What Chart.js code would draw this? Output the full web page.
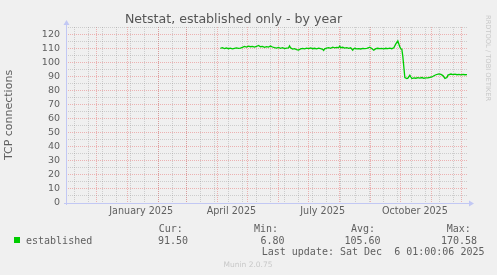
<!DOCTYPE html>
<html>
<head>
<meta charset="utf-8">
<script src="https://cdn.jsdelivr.net/npm/chart.js@4/dist/chart.umd.min.js"></script>
<style>
  html, body { margin: 0; padding: 0; background: #f0f0f0; }
  #wrap { width: 497px; height: 275px; }
</style>
</head>
<body>
<div id="wrap"><canvas id="netstatChart" width="497" height="275"></canvas></div>
<script>
// days counted from 1 Nov 2024 (graph start), the graph ends on 6 Dec 2025 (day 400)
const days = [154,156,158,160,162,164,166,168,170,172,174,176,178,180,182,184,186,188,190,192,
  194,196,198,200,202,204,206,208,210,212,214,216,218,220,222,223,224,226,228,230,
  232,234,236,238,240,242,244,246,248,250,252,254,256,257,258,260,262,264,266,268,
  270,272,273,274,276,278,280,282,284,286,287,288,290,292,294,296,298,300,302,303,
  305,307,309,311,313,315,317,319,321,323,325,327,329,331,333,334,335,336,338,340,
  341,343,344,345,347,349,351,353,355,357,359,361,363,365,367,369,372,374,376,378,
  380,381,384,386,388,390,392,394,396,398,400];
const established = [110.5,110.9,110.3,110.7,110.2,110.6,110.1,110.5,110.8,110.4,110.6,111.2,111.8,111.4,112.0,111.6,111.9,111.3,111.8,112.5,
  111.6,111.9,111.2,111.7,111.3,112.1,111.4,110.9,110.6,111.1,110.5,110.9,110.3,110.6,110.8,112.2,110.9,109.9,110.2,109.6,
  109.3,110.0,110.4,110.1,110.6,110.3,110.7,110.2,110.5,110.1,110.6,110.2,109.8,109.0,110.1,110.6,111.0,110.5,111.3,110.8,
  111.2,111.0,112.0,110.9,111.2,110.6,111.0,110.4,110.8,109.1,110.2,110.5,110.1,110.3,110.0,110.4,110.2,110.5,110.9,111.3,
  110.4,109.1,110.2,110.5,110.2,110.4,110.1,110.5,110.3,110.6,110.2,110.8,113.6,115.7,111.5,110.2,109.8,104.5,89.6,88.9,
  89.2,91.2,90.0,88.9,89.4,89.1,89.5,89.2,89.6,89.1,89.4,89.3,89.7,90.0,90.9,91.6,92.2,91.8,91.0,89.0,
  89.6,91.4,92.1,91.7,92.0,91.6,91.9,91.5,91.8,91.6,91.7];

// month starts (red grid), quarter labels placed mid-month
const monthStarts = [30,61,92,120,151,181,212,242,273,304,334,365,395];
const labelDays = [75,165,256,348];
const labelTexts = ['January 2025','April 2025','July 2025','October 2025'];
const yTicks = [0,10,20,30,40,50,60,70,80,90,100,110,120];

const legendStats = { cur: '91.50', min: '6.80', avg: '105.60', max: '170.58' };
const lastUpdate = 'Last update: Sat Dec  6 01:00:06 2025';

const GRID = 'rgba(140,140,140,0.35)';
const MGRID = 'rgba(230,90,90,0.42)';
const AXIS = '#c2c8f4';
const FONT = '#606060';

// minor grid every two weeks
const minorDays = [];
for (let d = 8.3; d < 400; d += 14) minorDays.push(d);
const xTickValues = [...minorDays, ...monthStarts, ...labelDays];

const yTickValues = [];
for (let v = 0; v <= 125; v += 5) yTickValues.push(v);

const points = days.map((d, i) => ({ x: d, y: established[i] }));

const muninDecor = {
    id: 'muninDecor',
    afterDraw(chart) {
        const ctx = chart.ctx;
        const a = chart.chartArea;
        ctx.save();
        // axes with arrows
        ctx.strokeStyle = AXIS;
        ctx.fillStyle = AXIS;
        ctx.lineWidth = 1;
        ctx.beginPath();
        ctx.moveTo(a.left + 0.5, a.bottom + 2);
        ctx.lineTo(a.left + 0.5, a.top - 3);
        ctx.moveTo(a.left - 2, a.bottom + 0.5);
        ctx.lineTo(a.right + 3, a.bottom + 0.5);
        ctx.stroke();
        ctx.beginPath();
        ctx.moveTo(a.left - 2.5, a.top - 2);
        ctx.lineTo(a.left + 3.5, a.top - 2);
        ctx.lineTo(a.left + 0.5, a.top - 7);
        ctx.closePath();
        ctx.fill();
        ctx.beginPath();
        ctx.moveTo(a.right + 2, a.bottom - 2.5);
        ctx.lineTo(a.right + 2, a.bottom + 3.5);
        ctx.lineTo(a.right + 7, a.bottom + 0.5);
        ctx.closePath();
        ctx.fill();

        // legend table
        ctx.fillStyle = '#00cc00';
        ctx.fillRect(14, 237, 6, 6);
        ctx.fillStyle = FONT;
        ctx.font = '10px "DejaVu Sans Mono"';
        ctx.textBaseline = 'alphabetic';
        ctx.textAlign = 'left';
        ctx.fillText('established', 26, 243.5);
        ctx.fillText('Cur:', 158.7, 231.5);
        ctx.fillText('Min:', 254, 231.5);
        ctx.fillText('Avg:', 351, 231.5);
        ctx.fillText('Max:', 446.7, 231.5);
        ctx.textAlign = 'right';
        ctx.fillText(legendStats.cur, 188, 243.5);
        ctx.fillText(legendStats.min, 284.5, 243.5);
        ctx.fillText(legendStats.avg, 380.5, 243.5);
        ctx.fillText(legendStats.max, 477, 243.5);
        ctx.textAlign = 'left';
        ctx.fillText(lastUpdate, 261.7, 255);

        ctx.fillStyle = '#c8c8c8';
        ctx.font = '7.5px "DejaVu Sans"';
        ctx.textAlign = 'center';
        ctx.fillText('Munin 2.0.75', 248, 267);

        // rrdtool watermark
        ctx.translate(486, 15);
        ctx.rotate(Math.PI / 2);
        ctx.textAlign = 'left';
        ctx.textBaseline = 'middle';
        ctx.font = '6.7px "DejaVu Sans"';
        ctx.fillStyle = '#c8c8c8';
        ctx.fillText('RRDTOOL / TOBI OETIKER', 0, -2);
        ctx.restore();
    }
};

const ctx = document.getElementById('netstatChart').getContext('2d');
const chart = new Chart(ctx, {
    type: 'line',
    data: {
        datasets: [{
            label: 'established',
            data: points,
            borderColor: '#00cc00',
            borderWidth: 1.3,
            pointRadius: 0,
            tension: 0,
            fill: false
        }]
    },
    options: {
        responsive: false,
        animation: false,
        layout: { padding: { left: 0, right: 30, top: 0, bottom: 0 } },
        plugins: {
            legend: { display: false },
            tooltip: { enabled: false },
            title: {
                display: true,
                text: 'Netstat, established only - by year',
                color: '#555',
                font: { family: 'DejaVu Sans', size: 12.6, weight: 'normal', lineHeight: 1.1 },
                padding: { top: 13.14, bottom: 0 }
            }
        },
        scales: {
            x: {
                type: 'linear',
                min: 0,
                max: 400,
                afterFit(scale) { scale.height = 72; },
                afterBuildTicks(scale) {
                    scale.ticks = xTickValues.map(v => ({ value: v }));
                },
                ticks: {
                    autoSkip: false,
                    maxRotation: 0,
                    padding: 3,
                    color: FONT,
                    font: { family: 'DejaVu Sans', size: 9.6 },
                    callback(v) {
                        const i = labelDays.indexOf(v);
                        return i >= 0 ? labelTexts[i] : '';
                    }
                },
                grid: {
                    drawTicks: false,
                    lineWidth: 1,
                    color(c) {
                        const v = c.tick ? c.tick.value : null;
                        if (labelDays.includes(v)) return 'rgba(0,0,0,0)';
                        return monthStarts.includes(v) ? MGRID : GRID;
                    }
                },
                border: { display: false, dash: [1, 1] }
            },
            y: {
                min: 0,
                max: 125.7,
                afterFit(scale) { scale.width = 66; },
                afterBuildTicks(scale) {
                    scale.ticks = yTickValues.map(v => ({ value: v }));
                },
                ticks: {
                    autoSkip: false,
                    padding: 6,
                    color: FONT,
                    font: { family: 'DejaVu Sans', size: 9.5 },
                    callback(v) { return yTicks.includes(v) ? String(v) : ''; }
                },
                grid: {
                    drawTicks: false,
                    lineWidth: 1,
                    color(c) {
                        const v = c.tick ? c.tick.value : null;
                        return v % 10 === 0 ? MGRID : GRID;
                    }
                },
                border: { display: false, dash: [1, 1] },
                title: {
                    display: true,
                    text: 'TCP connections',
                    color: FONT,
                    font: { family: 'DejaVu Sans', size: 11 },
                    padding: { top: 3, bottom: 0 }
                }
            }
        }
    },
    plugins: [muninDecor]
});
</script>
</body>
</html>
